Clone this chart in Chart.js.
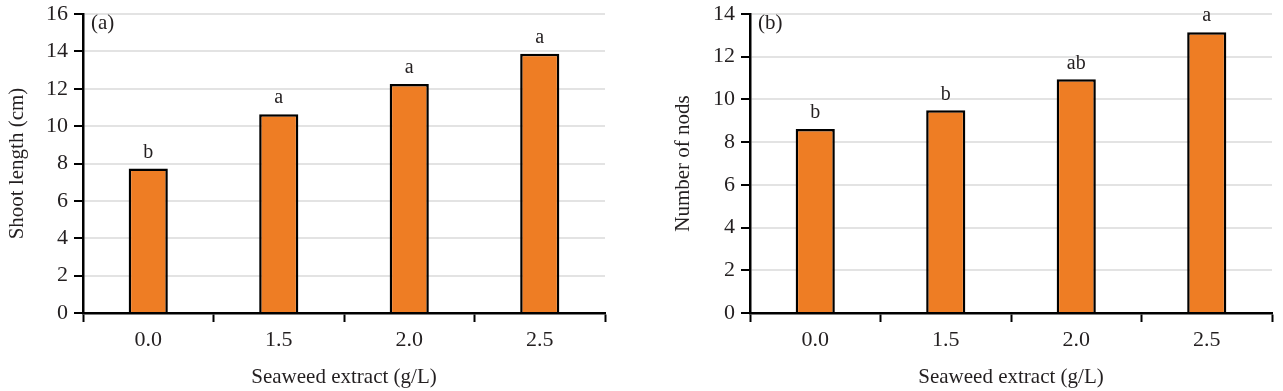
<!DOCTYPE html>
<html>
<head>
<meta charset="utf-8">
<script src="https://cdn.jsdelivr.net/npm/chart.js@4/dist/chart.umd.min.js"></script>
<style>
  html, body { margin: 0; padding: 0; background: #fff; }
  #wrap { position: relative; width: 1283px; height: 391px; }
  .box { position: absolute; top: 0; height: 391px; }
</style>
</head>
<body>
<div id="wrap">
  <div class="box" style="left:0;width:640px;"><canvas id="c1"></canvas></div>
  <div class="box" style="left:640px;width:643px;"><canvas id="c2"></canvas></div>
</div>
<script>
const categories = ['0.0', '1.5', '2.0', '2.5'];
const shootLength = [7.73, 10.64, 12.25, 13.87];
const shootLetters = ['b', 'a', 'a', 'a'];
const nodCount = [8.61, 9.49, 10.94, 13.15];
const nodLetters = ['b', 'b', 'ab', 'a'];
const xTitle = 'Seaweed extract (g/L)';

const FONT = "'Liberation Serif', 'Times New Roman', serif";
const TXT = '#231f20';

const letterPlugin = {
  id: 'letters',
  afterDatasetsDraw(chart, args, opts) {
    const ctx = chart.ctx;
    const meta = chart.getDatasetMeta(0);
    ctx.save();
    ctx.font = '20px ' + FONT;
    ctx.fillStyle = TXT;
    ctx.textAlign = 'center';
    ctx.textBaseline = 'bottom';
    meta.data.forEach((bar, i) => {
      ctx.fillText(opts.letters[i], bar.x, bar.y - 6);
    });
    ctx.textAlign = 'left';
    ctx.textBaseline = 'middle';
    ctx.font = '21px ' + FONT;
    ctx.fillText(opts.panel, chart.chartArea.left + 8, chart.chartArea.top + 9);
    ctx.restore();
  }
};

function makeChart(id, values, letters, panel, yTitle, yMax, yWidth, yTitlePad, rightPad) {
  return new Chart(document.getElementById(id), {
    type: 'bar',
    data: {
      labels: categories,
      datasets: [{
        data: values,
        backgroundColor: '#EE7D24',
        borderColor: '#000',
        borderWidth: 2.5,
        borderSkipped: 'bottom',
        categoryPercentage: 1.0,
        barPercentage: 0.3
      }]
    },
    options: {
      responsive: true,
      maintainAspectRatio: false,
      animation: false,
      layout: { padding: { top: 14, right: rightPad, bottom: 0, left: 0 } },
      plugins: {
        legend: { display: false },
        tooltip: { enabled: false },
        letters: { letters: letters, panel: panel }
      },
      scales: {
        x: {
          offset: true,
          grid: {
            offset: true,
            display: true,
            drawOnChartArea: false,
            drawTicks: true,
            tickLength: 9,
            tickColor: '#000',
            tickWidth: 2
          },
          border: { display: true, color: '#000', width: 2.5 },
          ticks: { font: { family: FONT, size: 22 }, color: TXT, padding: 5 },
          title: {
            display: true, text: xTitle,
            font: { family: FONT, size: 21 }, color: TXT,
            padding: { top: 0, bottom: 1 }
          },
          afterFit(scale) { scale.height = 78; scale.paddingLeft = 0; scale.paddingRight = 0; }
        },
        y: {
          min: 0, max: yMax,
          ticks: { stepSize: 2, font: { family: FONT, size: 22 }, color: TXT, padding: 6 },
          grid: {
            color: '#e3e3e3',
            lineWidth: 2,
            drawTicks: true,
            tickLength: 9,
            tickColor: '#000',
            tickWidth: 2
          },
          border: { display: true, color: '#000', width: 2.5 },
          title: {
            display: true, text: yTitle,
            font: { family: FONT, size: 21 }, color: TXT,
            padding: { top: yTitlePad, bottom: 0 }
          },
          afterFit(scale) { scale.width = yWidth; scale.paddingTop = 0; scale.paddingBottom = 0; }
        }
      }
    },
    plugins: [letterPlugin]
  });
}

makeChart('c1', shootLength, shootLetters, '(a)', 'Shoot length (cm)', 16, 83, 5, 35);
makeChart('c2', nodCount, nodLetters, '(b)', 'Number of nods', 14, 110, 31, 11);
</script>
</body>
</html>
